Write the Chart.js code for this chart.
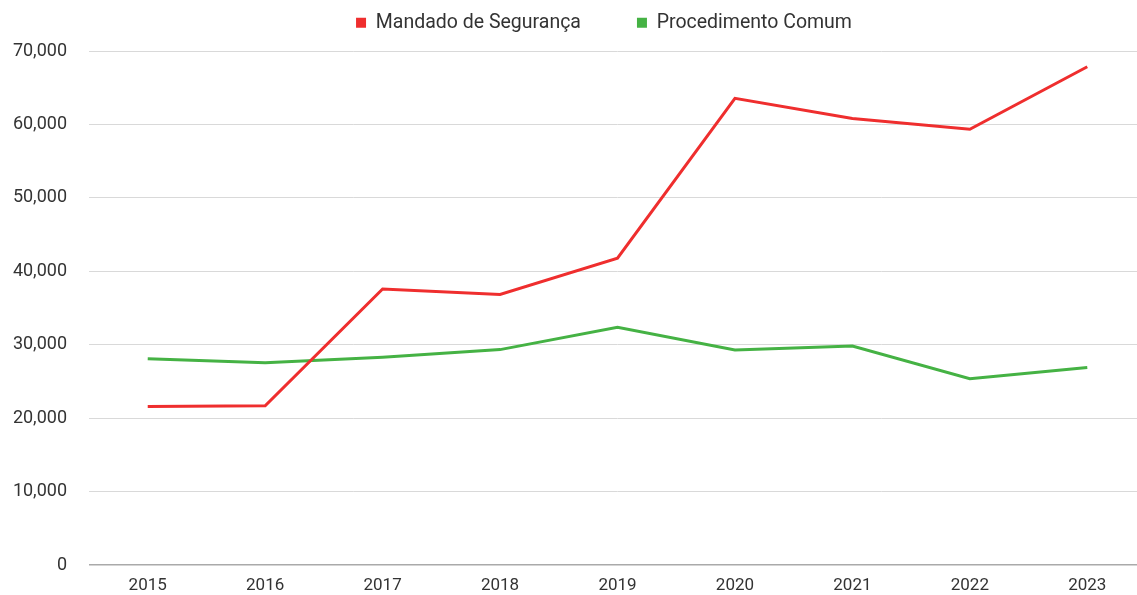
<!DOCTYPE html>
<html>
<head>
<meta charset="utf-8">
<script src="https://cdn.jsdelivr.net/npm/chart.js@4"></script>
<style>
  html, body { margin: 0; padding: 0; background: #fff; overflow: hidden; }
  .chart-container { position: relative; width: 1146px; height: 598px; }
</style>
</head>
<body>
<div class="chart-container">
  <canvas id="chart"></canvas>
</div>
<script>
const years = ['2015', '2016', '2017', '2018', '2019', '2020', '2021', '2022', '2023'];
const mandadoSeguranca = [21600, 21700, 37600, 36850, 41800, 63550, 60800, 59350, 67850];
const procedimentoComum = [28100, 27550, 28300, 29350, 32400, 29300, 29850, 25400, 26900];

const RED = '#ef2e2e';
const GREEN = '#45b244';
const TEXT = '#333333';

const LEGEND_HEIGHT = 51;
const LEGEND_GAP = 56;
const LEGEND_ITEM_TOP = 13;
const LEGEND_SHIFT = 31;

Chart.defaults.font.family = 'Roboto, "Liberation Sans", Arial, sans-serif';
Chart.defaults.color = TEXT;

// wide gap between the two legend items without a tall legend box
const legendSpacing = {
  id: 'legendSpacing',
  afterInit(chart) {
    const legend = chart.legend;
    const fit = legend.fit;
    legend.fit = function () {
      fit.call(this);
      this.height = LEGEND_HEIGHT;
    };
  },
  afterLayout(chart) {
    const legend = chart.legend;
    legend.top = LEGEND_ITEM_TOP - LEGEND_GAP;
    legend.bottom = LEGEND_HEIGHT;
    legend.height = legend.bottom - legend.top;
    legend.left += LEGEND_SHIFT;
    legend.right += LEGEND_SHIFT;
  },
};

const ctx = document.getElementById('chart').getContext('2d');
new Chart(ctx, {
  type: 'line',
  data: {
    labels: years,
    datasets: [
      {
        label: 'Mandado de Segurança',
        data: mandadoSeguranca,
        borderColor: RED,
        backgroundColor: RED,
        borderWidth: 3,
        pointRadius: 0,
        tension: 0,
      },
      {
        label: 'Procedimento Comum',
        data: procedimentoComum,
        borderColor: GREEN,
        backgroundColor: GREEN,
        borderWidth: 3,
        pointRadius: 0,
        tension: 0,
      },
    ],
  },
  options: {
    responsive: true,
    maintainAspectRatio: false,
    animation: false,
    layout: {
      padding: 0,
    },
    plugins: {
      tooltip: { enabled: false },
      legend: {
        position: 'top',
        labels: {
          boxWidth: 10,
          boxHeight: 10,
          padding: LEGEND_GAP,
          font: { size: 19.5 },
          color: TEXT,
          generateLabels: (chart) =>
            Chart.defaults.plugins.legend.labels.generateLabels(chart).map(l => ({ ...l, lineWidth: 0 })),
        },
      },
    },
    scales: {
      x: {
        offset: true,
        grid: { display: false, drawTicks: false },
        border: { display: false },
        ticks: { font: { size: 17 }, padding: 10, color: TEXT },
        afterFit: (scale) => { scale.height = 28; },
      },
      y: {
        min: 0,
        max: 70000,
        border: { display: false },
        grid: {
          drawTicks: false,
          color: (c) => (c.tick && c.tick.value === 0 ? '#aaaaaa' : '#d9d9d9'),
          lineWidth: (c) => (c.tick && c.tick.value === 0 ? 1.5 : 1),
        },
        ticks: {
          stepSize: 10000,
          padding: 22,
          font: { size: 18 },
          color: TEXT,
          callback: (v) => v.toLocaleString('en-US'),
        },
        afterFit: (scale) => { scale.width = 89; },
      },
    },
  },
  plugins: [legendSpacing],
});
</script>
</body>
</html>
